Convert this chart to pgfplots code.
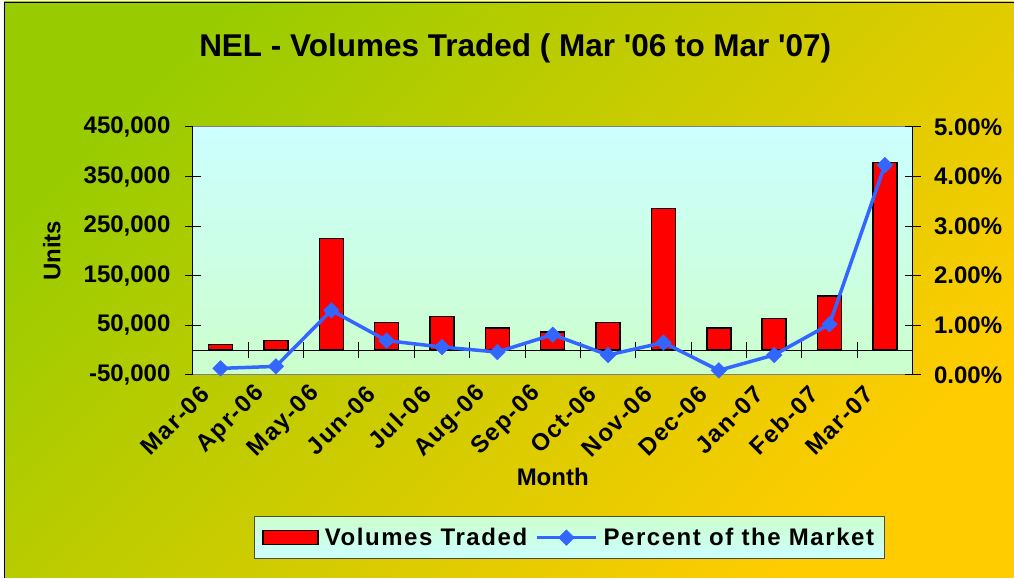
\documentclass[border=0pt]{standalone}
\usepackage{pgfplots}
\pgfplotsset{compat=1.18}
\usepackage{fontspec}
\setmainfont{Liberation Sans}
\newfontfamily\spacedfont[LetterSpace=6.5]{Liberation Sans}
\definecolor{bgA}{HTML}{99CC00}
\definecolor{bgB}{HTML}{FFCC00}
\definecolor{plotTop}{HTML}{CCFFFF}
\definecolor{plotBot}{HTML}{CCFFCC}
\definecolor{lineblue}{HTML}{3366FF}
\newcommand{\tl}{\fontsize{24}{28}\selectfont\bfseries}
\newcommand{\stl}{\spacedfont\fontsize{24}{28}\selectfont\bfseries}
\pgfplotsset{
  barleg/.style={legend image code/.code={\draw[fill=red,draw=black,line width=1.5pt] (0pt,-7pt) rectangle (55pt,7pt);}},
  lineleg/.style={legend image code/.code={\draw[##1, mark repeat=2, mark phase=2] plot coordinates {(0pt,0pt) (29.5pt,0pt) (59pt,0pt)};}},
}
\begin{document}
\begin{tikzpicture}
\fill[white] (0,0) rectangle (1014pt,578pt);
\shade[top color=bgA, bottom color=bgB, shading angle=45] (4pt,0pt) rectangle (1014pt,576pt);
\draw[black, line width=1pt] (4.5pt,0pt) -- (4.5pt,575.5pt) -- (1014pt,575.5pt);
\node[anchor=base, font=\fontsize{31.5}{36}\selectfont\bfseries] at (515.5pt,521pt) {NEL - Volumes Traded ( Mar \textquotesingle 06 to Mar \textquotesingle 07)};
\begin{axis}[
  at={(193pt,203pt)}, anchor=south west,
  scale only axis, width=720pt, height=248pt,
  xmin=-0.5, xmax=12.5, ymin=-50000, ymax=450000,
  axis line style={draw=none},
  axis background/.style={shade, top color=plotTop, bottom color=plotBot},
  xtick={0,...,12},
  xticklabels={Mar-06,Apr-06,May-06,Jun-06,Jul-06,Aug-06,Sep-06,Oct-06,Nov-06,Dec-06,Jan-07,Feb-07,Mar-07},
  x tick style={draw=none},
  xticklabel style={xshift=-13pt, yshift=-5pt, rotate=45, anchor=east, font=\stl},
  ytick={-50000,50000,150000,250000,350000,450000},
  yticklabels={{-50,000},{50,000},{150,000},{250,000},{350,000},{450,000}},
  ytick pos=left, tick align=center, major tick length=16pt,
  y tick style={black, line width=1pt},
  yticklabel style={font=\tl, xshift=-11pt},
  scaled y ticks=false,
  ylabel={Units}, ylabel style={at={(axis description cs:-0.196,0.5)}, anchor=center, font=\tl},
  xlabel={Month}, xlabel style={at={(axis description cs:0.5,-0.411)}, anchor=center, font=\tl},
  clip=false,
]
\addplot[ybar, bar width=24pt, fill=red, draw=black, line width=1.5pt] coordinates {
(0,11000) (1,19500) (2,225000) (3,56000) (4,68000) (5,44000) (6,36500)
(7,56000) (8,285000) (9,44000) (10,63500) (11,108500) (12,378500)};
\draw[black, line width=1pt] (axis cs:-0.5,0) -- (axis cs:12.5,0);
\pgfplotsinvokeforeach{0.5,1.5,2.5,3.5,4.5,5.5,6.5,7.5,8.5,9.5,10.5,11.5}{
  \draw[black, line width=1pt] (axis cs:#1,0) ++(0pt,-8pt) -- ++(0pt,16pt);
}
\draw[gray, line width=1pt] (rel axis cs:0,0) -- (rel axis cs:1,0) (rel axis cs:0,1) -- (rel axis cs:1,1);
\draw[black, line width=1pt] (rel axis cs:0,0) -- (rel axis cs:0,1) (rel axis cs:1,0) -- (rel axis cs:1,1);
\end{axis}
\begin{axis}[
  at={(193pt,203pt)}, anchor=south west,
  scale only axis, width=720pt, height=248pt,
  xmin=-0.5, xmax=12.5, ymin=0, ymax=5,
  axis line style={draw=none},
  xtick=\empty,
  ytick={0,1,2,3,4,5},
  yticklabels={0.00\%,1.00\%,2.00\%,3.00\%,4.00\%,5.00\%},
  ytick pos=right, yticklabel pos=right,
  tick align=center, major tick length=16pt,
  y tick style={black, line width=1pt},
  yticklabel style={font=\tl, xshift=10pt},
  legend columns=2,
  legend style={at={(0.523,-0.657)}, anchor=center, top color=plotBot, bottom color=plotTop,
    draw=gray!60!black, line width=1pt, font=\stl, inner xsep=8pt, inner ysep=9.5pt,
    /tikz/every even column/.append style={column sep=6pt},
    /tikz/every odd column/.append style={column sep=4pt}},
  clip=false,
]
\addlegendimage{barleg}
\addlegendentry{Volumes Traded}
\addplot[lineblue, line width=3.5pt, mark=square*, mark size=5.5pt,
  mark options={rotate=45, solid, fill=lineblue, draw=lineblue, line width=0.5pt}, lineleg]
  coordinates {
(0,0.13) (1,0.17) (2,1.30) (3,0.69) (4,0.56) (5,0.46) (6,0.81)
(7,0.40) (8,0.65) (9,0.09) (10,0.40) (11,1.02) (12,4.23)};
\addlegendentry{Percent of the Market}
\end{axis}
\end{tikzpicture}
\end{document}
